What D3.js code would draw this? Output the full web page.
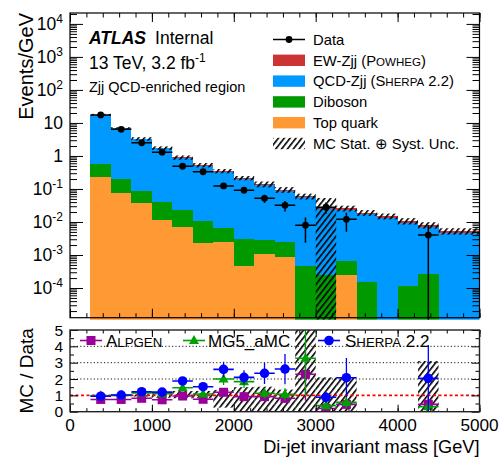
<!DOCTYPE html>
<html><head><meta charset="utf-8">
<script src="https://cdn.jsdelivr.net/npm/d3@7"></script>
<style>
body{margin:0;background:#fff;}
svg{display:block;font-family:"Liberation Sans",Arial,Helvetica,sans-serif;}
</style>
</head><body><svg id="c" width="499" height="460"></svg>
<script>
// ---------------- data ----------------
const binLo = [250,500,750,1000,1250,1500,1750,2000,2250,2500,2750,3000,3250,3500,3750,4000,4250,4500,4750];
const binWidth = 250;
const dataCounts = [4375,1600,625,325,122,83,31,23,13,8,2,7,3,0,0,0,1,0,0];
const topQuark = [0.226,0.074,0.037,0.0115,0.0069,0.0023,0.0025,0.00045,0.00107,0.00085,0,0,0.00024,0,0,0,0,0,0];
const diboson  = [0.344,0.121,0.052,0.0285,0.0161,0.0084,0.0042,0.00255,0.00173,0.00165,0.00047,0.00025,0.00042,0.000148,0,0.000117,0.00027,0,0];
const qcdZjj   = [16.98,6.685,3.141,1.655,0.847,0.498,0.327,0.201,0.1287,0.086,0.0547,0.025,0.0227,0.017,0.0135,0.0095,0.007,0.0047,0.0047];
const ewZjj    = [0.25,0.12,0.07,0.045,0.03,0.021,0.016,0.011,0.0085,0.0065,0.0048,0.0028,0.0026,0.0019,0.0015,0.0011,0.0008,0.0006,0.0006];
const uncUp    = [0.06,0.06,0.12,0.12,0.15,0.15,0.15,0.15,0.2,0.2,0.2,0.9,0.2,0.2,0.2,0.22,0.22,0.22,0.22];
const uncDn    = [0.06,0.06,0.12,0.12,0.15,0.15,0.15,0.15,0.2,0.2,0.2,1.0,0.2,0.2,0.2,0.22,0.22,0.22,0.22];

const ratioAlpgen = [0.75,0.75,0.82,0.73,0.96,0.76,1.19,0.92,0.92,0.82,2.29,0.2,0.45,null,null,null,0.45,null,null];
const ratioMG5    = [0.97,1.0,1.15,1.1,1.47,1.08,2.0,1.84,1.13,1.06,3.27,0.37,0.57,null,null,null,0.3,null,null];
const ratioSherpa = [0.95,1.02,1.22,1.2,1.88,1.53,2.59,2.1,2.35,2.61,7.2,0.88,2.08,null,null,null,2.04,null,null];
const ratioBandLo = [0.97,0.96,0.93,0.85,0.82,0.82,0.25,0,0,0,0,0,0,null,null,null,0,null,null];
const ratioBandHi = [1.03,1.04,1.07,1.15,1.27,1.27,1.33,1.5,1.53,1.35,5,2.1,2.1,null,null,null,3.1,null,null];

const yTickExp = [4,3,2,1,0,-1,-2,-3,-4];
const xTickVals = [0,1000,2000,3000,4000,5000];
const ratioTickVals = [0,1,2,3,4,5];
const ratioGridVals = [2,3,4];

// ---------------- layout ----------------
const svg = d3.select('#c');
const X0 = 70, X1 = 479.5;
const T0 = 13, T1 = 317.7;
const R0 = 330, R1 = 411.7;
const x = d3.scaleLinear().domain([0,5000]).range([X0,X1]);
const yT = d3.scaleLog().domain([1.26e-5, 2.14e4]).range([T1,T0]);
const yR = d3.scaleLinear().domain([0,5]).range([R1,R0]);

const col = {top:'#ff9933', diboson:'#009900', qcd:'#0099ff', ew:'#cc3333'};
const cAlp = '#990099', cMG = '#00a000', cSh = '#0000ff';

const defs = svg.append('defs');
const pat = defs.append('pattern').attr('id','hatch').attr('patternUnits','userSpaceOnUse')
  .attr('width',4.6).attr('height',4.6).attr('patternTransform','rotate(38)');
pat.append('line').attr('x1',0.8).attr('y1',-1).attr('x2',0.8).attr('y2',6)
  .attr('stroke','#000').attr('stroke-width',1.6);
defs.append('clipPath').attr('id','clipT').append('rect')
  .attr('x',X0).attr('y',T0).attr('width',X1-X0).attr('height',T1-T0+2);
defs.append('clipPath').attr('id','clipR').append('rect')
  .attr('x',X0).attr('y',R0).attr('width',X1-X0).attr('height',R1-R0);

// ---------------- top panel ----------------
const table = binLo.map((lo,i)=>({lo, top:topQuark[i], diboson:diboson[i], qcd:qcdZjj[i], ew:ewZjj[i]}));
const stack = d3.stack().keys(['top','diboson','qcd','ew'])(table);
const gT = svg.append('g').attr('clip-path','url(#clipT)');
const yv = v => v <= yT.domain()[0] ? T1+2 : yT(v);
stack.forEach(s=>{
  gT.append('g').selectAll('rect').data(s.filter(d=>d[1]-d[0]>0)).join('rect')
    .attr('x',d=>x(d.data.lo)).attr('width',d=>x(d.data.lo+binWidth)-x(d.data.lo))
    .attr('y',d=>yv(d[1])).attr('height',d=>yv(d[0])-yv(d[1]))
    .attr('fill',col[s.key]).attr('shape-rendering','crispEdges');
});
// uncertainty band
const totals = table.map(d=>d.top+d.diboson+d.qcd+d.ew);
gT.append('g').selectAll('rect').data(binLo).join('rect')
  .attr('x',d=>x(d)).attr('width',d=>x(d+binWidth)-x(d))
  .attr('y',(d,i)=>yv(totals[i]*(1+uncUp[i])))
  .attr('height',(d,i)=>yv(totals[i]*(1-uncDn[i]))-yv(totals[i]*(1+uncUp[i])))
  .attr('fill','url(#hatch)');
// data
const dataPts = binLo.map((lo,i)=>({lo, n:dataCounts[i]})).filter(d=>d.n>0);
const gD = gT.append('g');
dataPts.forEach(d=>{
  const v = d.n/binWidth, e = Math.sqrt(d.n)/binWidth;
  const cx = x(d.lo+binWidth/2);
  gD.append('line').attr('x1',x(d.lo)).attr('x2',x(d.lo+binWidth)).attr('y1',yT(v)).attr('y2',yT(v))
    .attr('stroke','#000').attr('stroke-width',1.5);
  gD.append('line').attr('x1',cx).attr('x2',cx).attr('y1',yv(v-e)).attr('y2',yT(v+e))
    .attr('stroke','#000').attr('stroke-width',1.5);
  gD.append('circle').attr('cx',cx).attr('cy',yT(v)).attr('r',3.4).attr('fill','#000');
});

// axes helper
function ticks(g, axisFn, scale, vals, size){
  g.call(axisFn(scale).tickValues(vals).tickSize(size).tickFormat(''))
   .call(a=>a.select('.domain').remove())
   .call(a=>a.selectAll('line').attr('stroke','#000').attr('stroke-width',1));
}
const xMinor = d3.range(0,5001,200);
const logMinor = [];
for(let e=-5;e<=4;e++) for(let m=2;m<=9;m++){const v=m*Math.pow(10,e); if(v>yT.domain()[0]&&v<yT.domain()[1]) logMinor.push(v);}
const logMajor = yTickExp.map(e=>Math.pow(10,e));

// top panel ticks
ticks(svg.append('g').attr('transform',`translate(0,${T1})`), d3.axisBottom, x, xTickVals, -9);
ticks(svg.append('g').attr('transform',`translate(0,${T1})`), d3.axisBottom, x, xMinor, -4.5);
ticks(svg.append('g').attr('transform',`translate(0,${T0})`), d3.axisTop, x, xTickVals, -9);
ticks(svg.append('g').attr('transform',`translate(0,${T0})`), d3.axisTop, x, xMinor, -4.5);
ticks(svg.append('g').attr('transform',`translate(${X0},0)`), d3.axisLeft, yT, logMajor, -13);
ticks(svg.append('g').attr('transform',`translate(${X0},0)`), d3.axisLeft, yT, logMinor, -7);
ticks(svg.append('g').attr('transform',`translate(${X1},0)`), d3.axisRight, yT, logMajor, -13);
ticks(svg.append('g').attr('transform',`translate(${X1},0)`), d3.axisRight, yT, logMinor, -7);
svg.append('rect').attr('x',X0).attr('y',T0).attr('width',X1-X0).attr('height',T1-T0)
  .attr('fill','none').attr('stroke','#000').attr('stroke-width',1.2);

// y tick labels (top)
yTickExp.forEach(e=>{
  const t = svg.append('text').attr('x',63).attr('y',yT(Math.pow(10,e))+6.3)
    .attr('text-anchor','end').attr('font-size',17.5).attr('fill','#000');
  if(e===0) t.text('1');
  else if(e===1) t.text('10');
  else { t.append('tspan').text('10'); t.append('tspan').attr('dy',-7.5).attr('font-size',12).text(e); }
});
svg.append('text').attr('transform',`translate(33,${T0}) rotate(-90)`).attr('text-anchor','end')
  .attr('font-size',20).text('Events/GeV');

// ATLAS labels
const atl = svg.append('text').attr('x',89).attr('y',43.5).attr('font-size',17.5);
atl.append('tspan').attr('font-weight','bold').attr('font-style','italic').text('ATLAS');
atl.append('tspan').attr('dx',9).text('Internal');
const lum = svg.append('text').attr('x',89).attr('y',68.5).attr('font-size',17.5);
lum.append('tspan').text('13 TeV, 3.2 fb');
lum.append('tspan').attr('dy',-7).attr('font-size',12).text('-1');
svg.append('text').attr('x',89).attr('y',91.5).attr('font-size',14.5).text('Zjj QCD-enriched region');

// legend (top)
const lg = svg.append('g');
const ly = [39.5,60.3,81.1,101.9,122.7,143.5];
const lx0 = 273, lx1 = 305, ltx = 313, lfs = 14.8;
lg.append('line').attr('x1',lx0).attr('x2',lx1).attr('y1',ly[0]).attr('y2',ly[0]).attr('stroke','#000').attr('stroke-width',1.5);
lg.append('circle').attr('cx',(lx0+lx1)/2).attr('cy',ly[0]).attr('r',3.4);
const sw = [[col.ew,1],[col.qcd,2],[col.diboson,3],[col.top,4],['url(#hatch)',5]];
sw.forEach(([c,i])=>lg.append('rect').attr('x',lx0).attr('y',ly[i]-5.7).attr('width',lx1-lx0).attr('height',11.4).attr('fill',c));
function legText(i, parts){
  const t = lg.append('text').attr('x',ltx).attr('y',ly[i]+5.2).attr('font-size',lfs);
  parts.forEach(p=>t.append('tspan').attr('font-size',p[1]?lfs*0.78:lfs).text(p[0]));
}
legText(0,[['Data']]);
legText(1,[['EW-Zjj (P'],['OWHEG',1],[')']]);
legText(2,[['QCD-Zjj (S'],['HERPA',1],[' 2.2)']]);
legText(3,[['Diboson']]);
legText(4,[['Top quark']]);
legText(5,[['MC Stat. \u2295 Syst. Unc.']]);

// ---------------- ratio panel ----------------
const gR = svg.append('g').attr('clip-path','url(#clipR)');
gR.append('g').selectAll('rect').data(binLo.map((lo,i)=>({lo,a:ratioBandLo[i],b:ratioBandHi[i]})).filter(d=>d.a!==null))
  .join('rect').attr('x',d=>x(d.lo)).attr('width',d=>x(d.lo+binWidth)-x(d.lo))
  .attr('y',d=>yR(Math.min(5.1,d.b))).attr('height',d=>yR(Math.max(-0.1,d.a))-yR(Math.min(5.1,d.b)))
  .attr('fill','url(#hatch)');
ratioGridVals.forEach(v=>gR.append('line').attr('x1',X0).attr('x2',X1).attr('y1',yR(v)).attr('y2',yR(v))
  .attr('stroke','#000').attr('stroke-width',0.9).attr('stroke-dasharray','1.2,2.2'));
gR.append('line').attr('x1',X0).attr('x2',X1).attr('y1',yR(1)).attr('y2',yR(1))
  .attr('stroke','#ff0000').attr('stroke-width',1.8).attr('stroke-dasharray','3,2.5');

function marker(g, type, cx, cy, c){
  if(type==='sq') g.append('rect').attr('x',cx-4.5).attr('y',cy-4.5).attr('width',9).attr('height',9).attr('fill',c);
  else if(type==='tri') g.append('path').attr('d',`M${cx},${cy-5.5}L${cx+5},${cy+3.5}L${cx-5},${cy+3.5}Z`).attr('fill',c);
  else g.append('circle').attr('cx',cx).attr('cy',cy).attr('r',4.8).attr('fill',c);
}
function ratioSeries(vals, c, type){
  const g = gR.append('g');
  binLo.forEach((lo,i)=>{
    const r = vals[i]; if(r===null || r>5) return;
    const e = r/Math.sqrt(dataCounts[i]);
    const cx = x(lo+binWidth/2), cy = yR(r);
    g.append('line').attr('x1',x(lo)).attr('x2',x(lo+binWidth)).attr('y1',cy).attr('y2',cy).attr('stroke',c).attr('stroke-width',1.6);
    g.append('line').attr('x1',cx).attr('x2',cx).attr('y1',yR(Math.max(-0.1,r-e))).attr('y2',yR(Math.min(5.1,r+e))).attr('stroke',c).attr('stroke-width',1.3);
    marker(g,type,cx,cy,c);
  });
}
ratioSeries(ratioAlpgen, cAlp, 'sq');
ratioSeries(ratioMG5, cMG, 'tri');
ratioSeries(ratioSherpa, cSh, 'ci');

// ratio axes
ticks(svg.append('g').attr('transform',`translate(0,${R1})`), d3.axisBottom, x, xTickVals, -7);
ticks(svg.append('g').attr('transform',`translate(0,${R1})`), d3.axisBottom, x, xMinor, -3.5);
ticks(svg.append('g').attr('transform',`translate(0,${R0})`), d3.axisTop, x, xTickVals, -7);
ticks(svg.append('g').attr('transform',`translate(0,${R0})`), d3.axisTop, x, xMinor, -3.5);
ticks(svg.append('g').attr('transform',`translate(${X0},0)`), d3.axisLeft, yR, ratioTickVals, -8);
ticks(svg.append('g').attr('transform',`translate(${X0},0)`), d3.axisLeft, yR, d3.range(0.5,5,1), -4);
ticks(svg.append('g').attr('transform',`translate(${X1},0)`), d3.axisRight, yR, ratioTickVals, -8);
ticks(svg.append('g').attr('transform',`translate(${X1},0)`), d3.axisRight, yR, d3.range(0.5,5,1), -4);
svg.append('rect').attr('x',X0).attr('y',R0).attr('width',X1-X0).attr('height',R1-R0)
  .attr('fill','none').attr('stroke','#222').attr('stroke-width',1.4);

ratioTickVals.forEach(v=>svg.append('text').attr('x',63).attr('y',yR(v)+5.6).attr('text-anchor','end')
  .attr('font-size',15.5).text(v));
xTickVals.forEach(v=>svg.append('text').attr('x',x(v)).attr('y',430.5).attr('text-anchor','middle')
  .attr('font-size',17.2).text(v));
svg.append('text').attr('transform',`translate(33,${(R0+R1)/2}) rotate(-90)`).attr('text-anchor','middle')
  .attr('font-size',19).text('MC / Data');
svg.append('text').attr('x',X1).attr('y',453).attr('text-anchor','end').attr('font-size',18.2)
  .text('Di-jet invariant mass [GeV]');

// ratio legend
const rl = svg.append('g');
const rly = 340.5, rfs = 17;
function rLeg(mx, type, c, tx, parts){
  rl.append('line').attr('x1',mx-11).attr('x2',mx+11).attr('y1',rly).attr('y2',rly).attr('stroke',c).attr('stroke-width',1.6);
  marker(rl,type,mx,rly,c);
  const t = rl.append('text').attr('x',tx).attr('y',rly+6).attr('font-size',rfs);
  parts.forEach(p=>t.append('tspan').attr('font-size',p[1]?rfs*0.78:rfs).text(p[0]));
}
rLeg(91,'sq',cAlp,106,[['A'],['LPGEN',1]]);
rLeg(194,'tri',cMG,208,[['MG5_aMC']]);
rLeg(329,'ci',cSh,345,[['S'],['HERPA',1],[' 2.2']]);
</script></body></html>
